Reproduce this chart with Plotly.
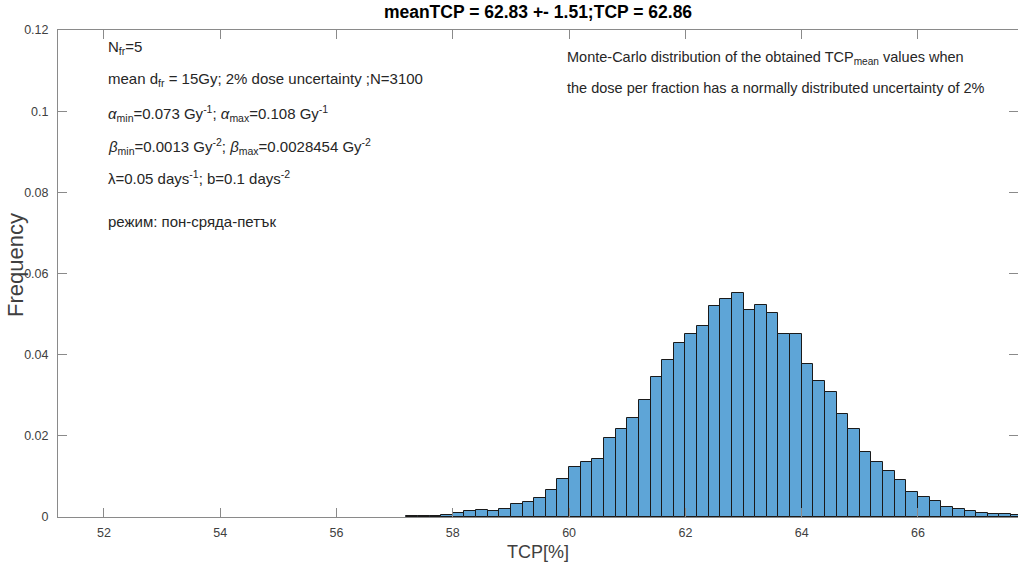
import numpy as np
import plotly.graph_objects as go

# ---- data ----
bin_start = 57.2
bin_width = 0.2
freq = [0.0003, 0.0003, 0.0003, 0.0006,
        0.0010, 0.0015, 0.0018, 0.0016, 0.0019,
        0.0032, 0.0036, 0.0046, 0.0066, 0.0094,
        0.0124, 0.0135, 0.0142, 0.0194, 0.0217,
        0.0244, 0.0289, 0.0346, 0.0387, 0.0428,
        0.0450, 0.0471, 0.0521, 0.0537, 0.0552,
        0.0511, 0.0523, 0.0503, 0.0450, 0.0450,
        0.0376, 0.0335, 0.0308, 0.0255, 0.0218,
        0.0159, 0.0135, 0.0114, 0.0092, 0.0062,
        0.0050, 0.0039, 0.0025, 0.0020, 0.0016,
        0.0011, 0.0008, 0.0007, 0.0005]
x_ticks = [52, 54, 56, 58, 60, 62, 64, 66]
y_ticks = [0, 0.02, 0.04, 0.06, 0.08, 0.1, 0.12]
title_text = "meanTCP = 62.83 +- 1.51;TCP = 62.86"
y_title = "Frequency"
x_title = "TCP[%]"
left_lines = [
    "N<sub>fr</sub>=5",
    "mean d<sub>fr</sub> = 15Gy; 2% dose uncertainty ;N=3100",
    "<i>α</i><sub>min</sub>=0.073 Gy<sup>-1</sup>; <i>α</i><sub>max</sub>=0.108 Gy<sup>-1</sup>",
    "<i>β</i><sub>min</sub>=0.0013 Gy<sup>-2</sup>; <i>β</i><sub>max</sub>=0.0028454 Gy<sup>-2</sup>",
    "λ=0.05 days<sup>-1</sup>; b=0.1 days<sup>-2</sup>",
    "режим: пон-сряда-петък",
]
left_y_px = [47, 80, 113, 146, 178, 222]
right_lines = [
    "Monte-Carlo distribution of the obtained TCP<sub>mean</sub> values when",
    "the dose per fraction has a normally distributed uncertainty of 2%",
]
right_y_px = [58, 88]

# ---- layout geometry ----
W, H = 1018, 569
L, R, T, B = 58, 0, 30, 52
pw, ph = W - L - R, H - T - B

centers = bin_start + bin_width * (np.arange(len(freq)) + 0.5)

FONT = "Liberation Sans, Arial, Helvetica, sans-serif"
AX = "#8a8a8a"
TXT = "#262626"

fig = go.Figure()
fig.add_trace(go.Bar(
    x=centers, y=freq, width=bin_width,
    marker=dict(color="rgb(94,165,215)", line=dict(color="#1a1a1a", width=1)),
    showlegend=False, hoverinfo="x+y",
))

annotations = []
for txt, py in zip(left_lines, left_y_px):
    annotations.append(dict(
        text=txt, xref="paper", yref="paper",
        x=(106 - L) / pw, y=(H - B - py) / ph,
        xanchor="left", yanchor="middle", showarrow=False,
        font=dict(family=FONT, size=15, color=TXT), align="left"))
for txt, py in zip(right_lines, right_y_px):
    annotations.append(dict(
        text=txt, xref="paper", yref="paper",
        x=(565 - L) / pw, y=(H - B - py) / ph,
        xanchor="left", yanchor="middle", showarrow=False,
        font=dict(family=FONT, size=14.5, color=TXT), align="left"))
# y-axis title placed as rotated annotation
annotations.append(dict(
    text=y_title, xref="paper", yref="paper",
    x=(15 - L) / pw, y=(H - B - 265) / ph,
    xanchor="center", yanchor="middle", showarrow=False, textangle=-90,
    font=dict(family=FONT, size=22, color="#404040")))

fig.update_layout(
    width=W, height=H,
    margin=dict(l=L, r=R, t=T, b=B),
    paper_bgcolor="white", plot_bgcolor="white",
    bargap=0,
    font=dict(family=FONT, color=TXT),
    title=dict(text="<b>" + title_text + "</b>", x=(L + pw / 2) / W, xanchor="center",
               y=1 - 12 / H, yanchor="middle",
               font=dict(family=FONT, size=17.5, color="#000000")),
    xaxis=dict(range=[51.21, 67.72], tickvals=x_ticks,
               ticks="inside", ticklen=9, tickcolor=AX, tickwidth=1,
               showline=True, linecolor=AX, linewidth=1, mirror="ticks",
               showgrid=False, zeroline=False, ticklabelstandoff=4,
               tickfont=dict(family=FONT, size=12.5, color="#404040"),
               title=dict(text=x_title, font=dict(family=FONT, size=18, color="#404040"),
                          standoff=6)),
    yaxis=dict(range=[0, 0.12], tickvals=y_ticks,
               ticks="inside", ticklen=9, tickcolor=AX, tickwidth=1,
               showline=True, linecolor=AX, linewidth=1, mirror="ticks",
               showgrid=False, zeroline=False, ticklabelstandoff=6,
               tickfont=dict(family=FONT, size=12.5, color="#404040")),
    annotations=annotations,
)

fig.write_html("out.html")
